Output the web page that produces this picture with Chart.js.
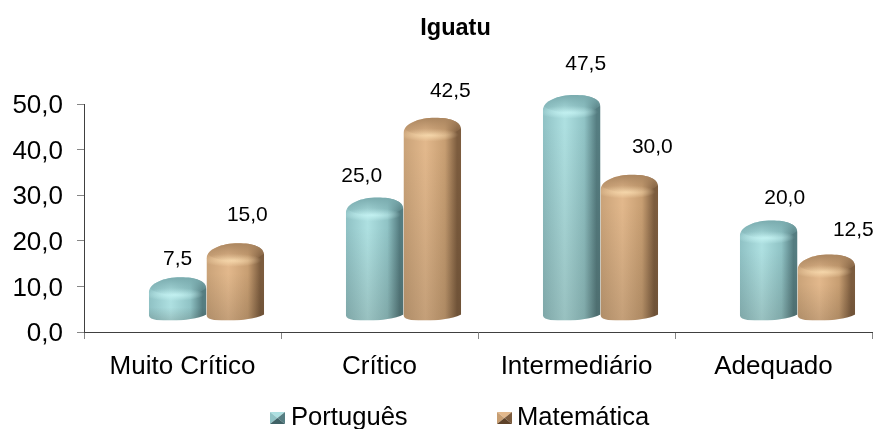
<!DOCTYPE html>
<html>
<head>
<meta charset="utf-8">
<title>Iguatu</title>
<script src="https://cdn.jsdelivr.net/npm/chart.js@4"></script>
<style>
    html, body { margin: 0; padding: 0; background: #fff; }
    canvas { display: block; }
</style>
</head>
<body>
<canvas id="myChart" width="875" height="429"></canvas>
<script>
let chartTitle = 'Iguatu';
let categories = ['Muito Crítico', 'Crítico', 'Intermediário', 'Adequado'];
let seriesNames = ['Português', 'Matemática'];
let portugues = [7.5, 25.0, 47.5, 20.0];
let matematica = [15.0, 42.5, 30.0, 12.5];

// the labels were placed by hand in the original, so each has its own offset from the cap
let labelOffsets = [
    [[0, -28], [-13, -31], [14, -41], [16, -32]],
    [[12, -38], [18, -37], [23, -38], [27, -34]]
];

let palettes = [
    { edge: '#8fc1c4', light: '#aee0e1', mid: '#90c3c5', dark: '#557d81', capTop: '#7aabae', capLow: '#c4f2f2', swatchDark: '#3f6266' },
    { edge: '#c9a278', light: '#e2b88c', mid: '#c79e72', dark: '#7c5c3e', capTop: '#ab8660', capLow: '#f6d8ac', swatchDark: '#5e4229' }
];

let depthX = 24;
let depthY = 21;
let capShift = 10.5;
let capRadius = 10;
let font = 'Liberation Sans, Arial, sans-serif';

function formatValue(v) {
    return Number(v).toFixed(1).replace('.', ',');
}

function drawCylinder(ctx, bar, pal) {
    let w = bar.width;
    let left = bar.x - w / 2 + depthX;
    let right = left + w;
    let cx = (left + right) / 2;
    let top = bar.y - capShift;
    let bottom = bar.base - depthY;

    // outline with squared shoulders, a little skewed like the 3D original
    ctx.save();
    ctx.beginPath();
    ctx.moveTo(left, top + 5);
    ctx.bezierCurveTo(left + 0.01 * w, top - 4, left + 0.26 * w, top - capRadius, cx + 0.05 * w, top - capRadius);
    ctx.bezierCurveTo(right - 0.2 * w, top - capRadius, right - 0.01 * w, top - 7, right, top + 2);
    ctx.lineTo(right, bottom + 4);
    ctx.bezierCurveTo(right - 0.14 * w, bottom + 8, left + 0.6 * w, bottom + capRadius, left + 0.4 * w, bottom + capRadius);
    ctx.bezierCurveTo(left + 0.2 * w, bottom + capRadius, left + 0.02 * w, bottom + 10, left, bottom + 5);
    ctx.closePath();
    ctx.clip();

    let side = ctx.createLinearGradient(left, 0, right, 0);
    side.addColorStop(0, pal.edge);
    side.addColorStop(0.38, pal.light);
    side.addColorStop(0.72, pal.mid);
    side.addColorStop(0.93, pal.dark);
    side.addColorStop(1, pal.dark);
    ctx.fillStyle = side;
    ctx.fillRect(left, top - capRadius, w, bottom - top + 2 * capRadius);

    // soft shading towards the foot
    let foot = ctx.createLinearGradient(0, top + 20, 0, bottom + capRadius);
    foot.addColorStop(0, 'rgba(40,30,20,0)');
    foot.addColorStop(1, 'rgba(40,30,20,0.16)');
    ctx.fillStyle = foot;
    ctx.fillRect(left, top + 20, w, Math.max(0, bottom + capRadius - top - 20));

    // bright smile along the front rim of the cap
    ctx.save();
    ctx.translate(cx - 0.06 * w, top + 7);
    ctx.scale(1, 0.22);
    let glow = ctx.createRadialGradient(0, 0, 0, 0, 0, w * 0.52);
    glow.addColorStop(0, pal.capLow);
    glow.addColorStop(1, pal.capLow + '00');
    ctx.fillStyle = glow;
    ctx.fillRect(-w, -w, 2 * w, 2 * w);
    ctx.restore();

    // back of the cap is in shade and fades into the rim
    ctx.beginPath();
    ctx.ellipse(cx, top - 3, w * 0.52, capRadius + 1, 0, 0, Math.PI * 2);
    let cap = ctx.createLinearGradient(0, top - capRadius, 0, top + 8);
    cap.addColorStop(0, pal.capTop);
    cap.addColorStop(1, pal.capTop + '00');
    ctx.fillStyle = cap;
    ctx.fill();
    ctx.restore();
}

function drawSwatch(ctx, x, y, w, h, pal) {
    let cx = x + w / 2;
    let cy = y + h / 2;
    let faces = [
        [[x, y], [x + w, y], pal.light],
        [[x, y], [x, y + h], pal.mid],
        [[x + w, y], [x + w, y + h], pal.dark],
        [[x, y + h], [x + w, y + h], pal.swatchDark]
    ];
    faces.forEach(function (f) {
        ctx.beginPath();
        ctx.moveTo(f[0][0], f[0][1]);
        ctx.lineTo(f[1][0], f[1][1]);
        ctx.lineTo(cx, cy);
        ctx.closePath();
        ctx.fillStyle = f[2];
        ctx.fill();
    });
}

let cylinderPlugin = {
    id: 'cylinders',
    afterLayout: function (chart) {
        // the title sits left of the plot centre in the original
        chart.titleBlock.left += 39;
    },
    afterDatasetsDraw: function (chart) {
        let ctx = chart.ctx;
        chart.data.datasets.forEach(function (ds, i) {
            chart.getDatasetMeta(i).data.forEach(function (bar) {
                drawCylinder(ctx, bar, palettes[i]);
            });
        });

        ctx.save();
        ctx.fillStyle = '#000';
        ctx.font = '21px ' + font;
        ctx.textAlign = 'center';
        ctx.textBaseline = 'middle';
        chart.data.datasets.forEach(function (ds, i) {
            chart.getDatasetMeta(i).data.forEach(function (bar, j) {
                let off = labelOffsets[i][j];
                ctx.fillText(formatValue(ds.data[j]), bar.x + depthX + off[0], bar.y - capShift + off[1]);
            });
        });
        ctx.restore();
    },
    afterDraw: function (chart) {
        let ctx = chart.ctx;
        let swatchX = [270, 497];
        let textX = [291, 517];
        ctx.save();
        ctx.font = '25.6px ' + font;
        ctx.textBaseline = 'middle';
        seriesNames.forEach(function (name, i) {
            drawSwatch(ctx, swatchX[i], 412, 15, 12, palettes[i]);
            ctx.fillStyle = '#000';
            ctx.fillText(name, textX[i], 418);
        });
        ctx.restore();
    }
};

let chart = new Chart(document.getElementById('myChart').getContext('2d'), {
    type: 'bar',
    data: {
        labels: categories,
        datasets: [
            { label: seriesNames[0], data: portugues, backgroundColor: 'rgba(0,0,0,0)' },
            { label: seriesNames[1], data: matematica, backgroundColor: 'rgba(0,0,0,0)' }
        ]
    },
    options: {
        responsive: false,
        animation: false,
        categoryPercentage: 0.585,
        barPercentage: 1,
        layout: { padding: { left: 0, right: 3, top: 0, bottom: 0 } },
        plugins: {
            legend: { display: false },
            tooltip: { enabled: false },
            title: {
                display: true,
                text: chartTitle,
                color: '#000',
                font: { family: font, size: 23.5, weight: 'bold' },
                padding: { top: 14, bottom: 62 }
            }
        },
        scales: {
            x: {
                grid: { drawOnChartArea: false, tickLength: 7, tickColor: '#868686' },
                border: { color: '#404040' },
                ticks: { color: '#000', font: { family: font, size: 26 }, padding: 12, maxRotation: 0 },
                afterFit: function (scale) { scale.height = 97; }
            },
            y: {
                min: 0,
                max: 50,
                grid: { drawOnChartArea: false, tickLength: 7, tickColor: '#868686' },
                border: { color: '#404040' },
                ticks: {
                    stepSize: 10,
                    color: '#000',
                    font: { family: font, size: 26 },
                    padding: 14,
                    labelOffset: 2,
                    callback: formatValue
                },
                afterFit: function (scale) { scale.width = 84; }
            }
        }
    },
    plugins: [cylinderPlugin]
});
</script>
</body>
</html>
